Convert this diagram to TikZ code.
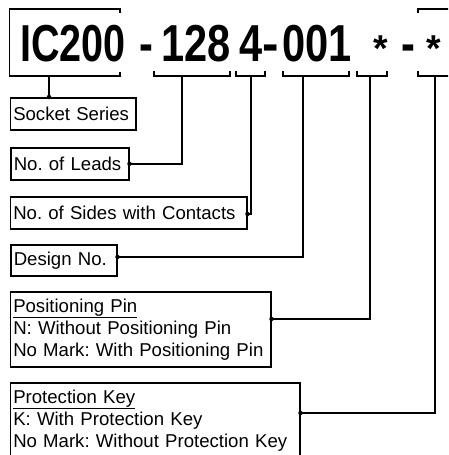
\documentclass[tikz,border=0pt]{standalone}
\usepackage{fontspec}
\setmainfont{Liberation Sans}
\usepackage{graphicx}
\usetikzlibrary{calc}
\frenchspacing
\begin{document}
\begin{tikzpicture}[x=1pt,y=-1pt,
 ln/.style={line width=1.6pt},
 lbox/.style={draw, line width=1.5pt, anchor=north west, inner xsep=3pt, inner ysep=0pt, align=left, font=\fontsize{18.6}{22}\selectfont\frenchspacing},
 big/.style={anchor=base west, inner sep=0pt, font=\fontsize{52}{52}\selectfont\bfseries},
 jdot/.style={circle, fill, inner sep=0pt, minimum size=4.5pt}]
\useasboundingbox (0,0) rectangle (448,455);
\clip (0,0) rectangle (448,455);
% big code
\node[big] (t1) at (20,61) {\scalebox{0.76}[1]{IC200}};
\node[big] (t2) at (139,61) {\scalebox{0.8}[1]{-}};
\node[big] (t3) at (161,61) {\scalebox{0.8}[1]{128}};
\node[big] (t4) at (239,61) {\scalebox{0.8}[1]{4}\scalebox{0.95}[1]{-}};
\node[big] (t5) at (282,61) {\scalebox{0.8}[1]{001}};
\node[big] (t6) at (373,61) {\scalebox{0.72}{*}};
\node[big] (t7) at (401,61) {\scalebox{0.8}[1]{-}};
\node[big] (t8) at (426,61) {\scalebox{0.72}{*}};
% brackets
\draw[ln] (120,13) -- (120,9) -- (9.5,9) -- (9.5,76) -- (120,76) -- (120,72);
\draw[ln] (154,71) -- (154,76) -- (230,76) -- (230,71);
\draw[ln] (236,71) -- (236,76) -- (265,76) -- (265,71);
\draw[ln] (283,71) -- (283,76) -- (349,76) -- (349,71);
\draw[ln] (357,71) -- (357,76) -- (387,76) -- (387,71);
\draw[ln] (418,71) -- (418,76) -- (452,76);
\draw[ln] (418,13) -- (418,9) -- (452,9);
\coordinate (s0) at (49,76);
\coordinate (s1) at (182,76);
\coordinate (s2) at (251,76);
\coordinate (s3) at (303,76);
\coordinate (s4) at (370,76);
\coordinate (s5) at (435,76);
% label boxes
\node[lbox, text width=119.5pt, minimum height=32pt] (ss) at (9.5,97) {Socket Series};
\node[lbox, text width=112pt, minimum height=32pt] (nl) at (10,147) {No. of Leads};
\node[lbox, text width=230.5pt, minimum height=32pt] (ns) at (9.5,196) {No. of Sides with Contacts};
\node[lbox, text width=100pt, minimum height=31pt] (dn) at (10,244) {Design No.};
\node[lbox, text width=254.5pt, minimum height=75pt] (pp) at (9.5,291) {\underline{Positioning Pin}\\N: Without Positioning Pin\\No Mark: With Positioning Pin};
\node[lbox, text width=283.5pt, minimum height=75pt] (pk) at (9.5,382) {\underline{Protection Key}\\K: With Protection Key\\No Mark: Without Protection Key};
% connectors
\coordinate (e0) at (s0 |- ss.north);
\coordinate (e1) at (nl.east);
\coordinate (e2) at ($(ns.north east)+(0,18)$);
\coordinate (e3) at ($(dn.north east)+(0,13)$);
\coordinate (e4) at ($(pp.north east)+(0,28)$);
\coordinate (e5) at ($(pk.north east)+(0,31)$);
\draw[ln] (s0) -- (e0);
\draw[ln] (s1) |- (e1);
\draw[ln] (s2) |- (e2);
\draw[ln] (s3) |- (e3);
\draw[ln] (s4) |- (e4);
\draw[ln] (s5) |- (e5);
\foreach \i in {0,...,5} \node[jdot] at (e\i) {};
\end{tikzpicture}
\end{document}
